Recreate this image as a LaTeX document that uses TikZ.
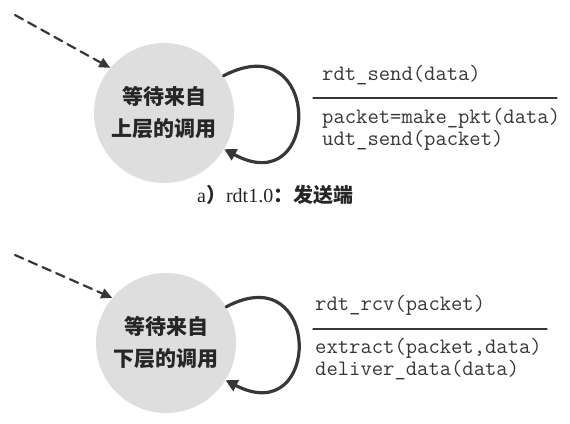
\documentclass[tikz,border=0pt]{standalone}
\usepackage{fontspec}
\newfontfamily\serif{Liberation Serif}
\newfontfamily\cjk{Noto Sans CJK SC}
\usetikzlibrary{arrows.meta}
\definecolor{stategray}{RGB}{222,222,222}
\definecolor{inkgray}{RGB}{55,55,55}
\begin{document}
\begin{tikzpicture}[x=1pt, y=-1pt, line join=round, line cap=round,
    state/.style={circle, fill=stategray, minimum size=140pt, inner sep=0pt, align=center,
        font=\cjk\bfseries\fontsize{21}{32}\selectfont, text=black!85},
    initarr/.style={draw=inkgray, line width=2.2pt, dash pattern=on 9pt off 6pt,
        -{Triangle[length=11pt, width=10pt]}},
    looparr/.style={draw=inkgray, line width=3.2pt, -{Triangle[length=12pt, width=12pt]}},
    fsmtext/.style={anchor=west, inner sep=0pt, align=left, text=inkgray}]

    \useasboundingbox (0,0) rectangle (570,423);

    % a) sender
    \node[state] (wait1) at (164,113) {等待来自\\上层的调用};
    \coordinate (init1) at (15,15);
    \draw[initarr] (init1) -- (wait1.140);
    \draw[looparr] (wait1.32) .. controls (322,24) and (322,202) .. (wait1.-31);

    \node[fsmtext, font=\ttfamily\fontsize{22}{22}\selectfont] (ev1) at (322,75) {rdt\_send(data)};
    \draw[inkgray, line width=1.3pt] (313,98) -- (557,98); % event / action
    \node[fsmtext, font=\ttfamily\fontsize{22}{22}\selectfont] (act1) at (322,129)
        {packet=make\_pkt(data)\\udt\_send(packet)};

    \node[inner sep=0pt, anchor=west, font=\fontsize{20}{24}\selectfont, text=black!85] (cap1) at (197,195)
        {{\serif a}{\cjk\bfseries ）}{\serif rdt1.0}{\cjk\bfseries ：发送端}};

    % b) receiver
    \node[state] (wait2) at (166,343) {等待来自\\下层的调用};
    \coordinate (init2) at (15,255);
    \draw[initarr] (init2) -- (wait2.140);
    \draw[looparr] (wait2.31) .. controls (322,256) and (322,430) .. (wait2.-32);

    \node[fsmtext, font=\ttfamily\fontsize{22}{22}\selectfont] (ev2) at (315,305) {rdt\_rcv(packet)};
    \draw[inkgray, line width=1.3pt] (313,329) -- (547,329); % event / action
    \node[fsmtext, font=\ttfamily\fontsize{22}{18.5}\selectfont] (act2) at (315,359)
        {extract(packet,data)\\deliver\_data(data)};
\end{tikzpicture}
\end{document}
